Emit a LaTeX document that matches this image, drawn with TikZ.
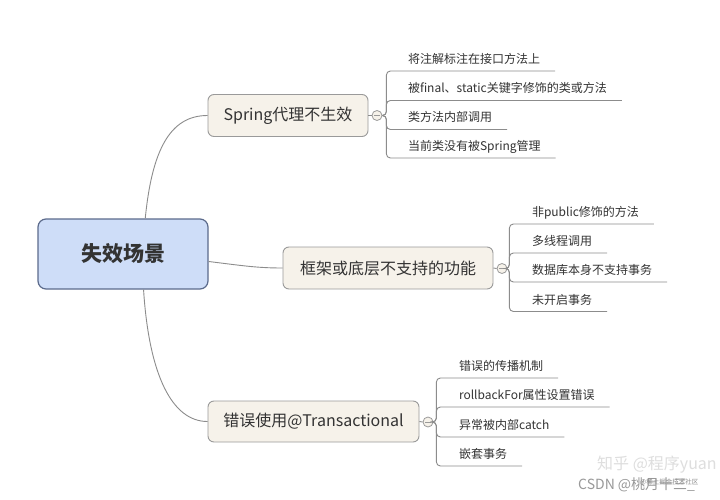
\documentclass[tikz,border=0pt]{standalone}
\usepackage{fontspec}
\setmainfont{Noto Sans CJK SC}
\usetikzlibrary{calc}
\definecolor{txt}{HTML}{333333}
\definecolor{rootfill}{HTML}{CEDDF8}
\definecolor{rootline}{HTML}{5C6B8C}
\definecolor{brfill}{HTML}{F6F2EA}
\definecolor{brline}{HTML}{9A9A9A}
\definecolor{conn}{HTML}{8C8C8C}
\tikzset{
  rootbox/.style={draw=rootline, line width=1.2pt, fill=rootfill, rounded corners=8pt,
    minimum width=170pt, minimum height=70pt, text=txt, font=\fontsize{21pt}{24pt}\selectfont\bfseries},
  branchbox/.style={draw=brline, line width=0.9pt, fill=brfill, rounded corners=6pt,
    minimum height=42pt, text=txt, font=\fontsize{16pt}{19pt}\selectfont},
  leaf/.style={inner sep=0pt, outer sep=0pt, text depth=7.5pt, anchor=south west, text=txt,
    font=\fontsize{12pt}{14pt}\selectfont},
  collapse/.style={circle, draw=brline, line width=0.8pt, fill=brfill, minimum size=10pt, inner sep=0pt,
    path picture={\draw[brline, line width=0.8pt] ($(path picture bounding box.center)+(-2.6pt,0)$) -- ++(5.2pt,0);}},
  conline/.style={draw=conn, line width=0.9pt},
  bracket/.style={draw=conn, line width=0.9pt, rounded corners=4pt},
  wm/.style={inner sep=0pt, anchor=west}
}
\begin{document}
\begin{tikzpicture}[x=1pt, y=-1pt]
\useasboundingbox[fill=white] (0,0) rectangle (720,500);

% root and branches
\node[rootbox] (root) at (123,254) {失效场景};
\node[branchbox, minimum width=160pt] (b1) at (288,115.5) {Spring代理不生效};
\node[branchbox, minimum width=210pt] (b2) at (388,268) {框架或底层不支持的功能};
\node[branchbox, minimum width=211pt, minimum height=41pt] (b3) at (313.5,421.5) {错误使用@Transactional};

\draw[conline] (root.58) .. controls (152,150) and (170,115.5) .. (b1.west);
\draw[conline] (root.-5) .. controls (245,266) and (258,268) .. (b2.west);
\draw[conline] (root.-60) .. controls (149,375) and (172,421.5) .. (b3.west);

% collapse circles
\node[collapse] (c1) at (377,115.5) {};
\node[collapse] (c2) at (502,268.5) {};
\node[collapse] (c3) at (428,422) {};
\draw[conline] (b1.east) -- (c1.west);
\draw[conline] (b2.east) -- (c2.west);
\draw[conline] (b3.east) -- (c3.west);

% leaves of branch 1
\node[leaf] (l11) at (408,71) {将注解标注在接口方法上};
\node[leaf] (l12) at (408,100.5) {被final、static关键字修饰的类或方法};
\node[leaf] (l13) at (408,129.5) {类方法内部调用};
\node[leaf] (l14) at (408,158) {当前类没有被Spring管理};
\foreach \n in {l11,l12,l13,l14}
  \draw[bracket] (c1.east) -- ++(4,0) |- ($(\n.south east)+(15,0)$);

% leaves of branch 2
\node[leaf] (l21) at (532,224) {非public修饰的方法};
\node[leaf] (l22) at (532,253) {多线程调用};
\node[leaf] (l23) at (532,282) {数据库本身不支持事务};
\node[leaf] (l24) at (532,311.5) {未开启事务};
\foreach \n in {l21,l22,l23,l24}
  \draw[bracket] (c2.east) -- ++(2,0) |- ($(\n.south east)+(15,0)$);

% leaves of branch 3
\node[leaf] (l31) at (459,378) {错误的传播机制};
\node[leaf] (l32) at (459,407) {rollbackFor属性设置错误};
\node[leaf] (l33) at (459,437) {异常被内部catch};
\node[leaf] (l34) at (459,466) {嵌套事务};
\foreach \n in {l31,l32,l33,l34}
  \draw[bracket] (c3.east) -- ++(3,0) |- ($(\n.south east)+(15,0)$);

% watermarks
\node[wm, text=black!13, font=\fontsize{16pt}{18pt}\selectfont] (wm1) at (597,465) {知乎 @程序yuan};
\node[wm, text=black!40, font=\fontsize{14pt}{16pt}\selectfont] (wm2) at (578,485) {CSDN @桃月十三\_};
\node[wm, text=black!45, font=\fontsize{6.5pt}{7pt}\selectfont] (wm3) at (640,482) {@稀土掘金技术社区};
\end{tikzpicture}
\end{document}
